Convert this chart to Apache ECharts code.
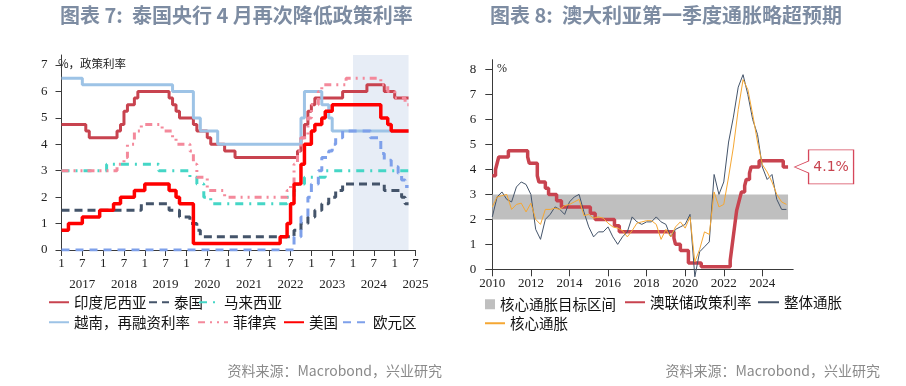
<!DOCTYPE html>
<html><head><meta charset="utf-8">
<script src="https://cdn.jsdelivr.net/npm/echarts@6/dist/echarts.min.js"></script>
<style>html,body{margin:0;padding:0;background:#fff}#c{width:906px;height:386px}</style>
</head><body><div id="c"></div>
<script>
// ---------- Left chart: policy rates (change points, "YYYY-MM", %) ----------
const leftYTicks = [0,1,2,3,4,5,6,7];
const leftMonthLabels = ['1','7'];
const leftShade = ['2024-01','2025-05'];
const indonesia = [['2017-01',4.75],['2017-08',4.5],['2017-09',4.25],['2018-05',4.5],['2018-06',4.75],['2018-07',5.25],['2018-08',5.5],['2018-10',5.75],['2018-11',6.0],['2019-08',5.75],['2019-09',5.5],['2019-10',5.25],['2019-11',5.0],['2020-03',4.75],['2020-04',4.5],['2020-07',4.25],['2020-08',4.0],['2020-12',3.75],['2021-03',3.5],['2022-09',3.75],['2022-10',4.25],['2022-11',4.75],['2022-12',5.25],['2023-01',5.5],['2023-02',5.75],['2023-10',6.0],['2024-05',6.25],['2024-10',6.0],['2025-01',5.75],['2025-05',5.75]];
const thailand = [['2017-01',1.5],['2018-12',1.75],['2019-08',1.5],['2019-11',1.25],['2020-02',1.0],['2020-04',0.75],['2020-05',0.5],['2022-08',0.75],['2022-10',1.0],['2022-12',1.25],['2023-02',1.5],['2023-04',1.75],['2023-06',2.0],['2023-08',2.25],['2023-10',2.5],['2024-10',2.25],['2025-03',2.0],['2025-04',1.75],['2025-05',1.75]];
const malaysia = [['2017-01',3.0],['2018-02',3.25],['2019-05',3.0],['2020-02',2.75],['2020-04',2.5],['2020-06',2.0],['2020-08',1.75],['2022-06',2.0],['2022-08',2.25],['2022-09',2.5],['2022-11',2.75],['2023-05',3.0],['2025-05',3.0]];
const vietnam = [['2017-01',6.5],['2017-07',6.25],['2019-09',6.0],['2020-03',5.0],['2020-05',4.5],['2020-10',4.0],['2022-10',5.0],['2022-11',6.0],['2023-04',5.5],['2023-06',5.0],['2023-07',4.5],['2025-05',4.5]];
const philippines = [['2017-01',3.0],['2018-05',3.25],['2018-07',3.5],['2018-08',4.0],['2018-10',4.5],['2018-12',4.75],['2019-06',4.5],['2019-09',4.25],['2019-10',4.0],['2020-02',3.75],['2020-03',3.25],['2020-04',2.75],['2020-07',2.25],['2020-12',2.0],['2022-06',2.25],['2022-07',2.5],['2022-08',3.25],['2022-09',3.75],['2022-10',4.25],['2022-12',5.0],['2023-01',5.5],['2023-03',6.0],['2023-04',6.25],['2023-11',6.5],['2024-09',6.25],['2024-11',6.0],['2025-01',5.75],['2025-04',5.5],['2025-05',5.5]];
const usa = [['2017-01',0.75],['2017-03',1.0],['2017-07',1.25],['2017-12',1.5],['2018-04',1.75],['2018-06',2.0],['2018-10',2.25],['2019-01',2.5],['2019-08',2.25],['2019-10',2.0],['2019-11',1.75],['2020-03',0.25],['2022-04',0.5],['2022-06',1.0],['2022-07',1.75],['2022-08',2.5],['2022-10',3.25],['2022-11',4.0],['2023-01',4.5],['2023-02',4.75],['2023-04',5.0],['2023-05',5.25],['2023-07',5.5],['2024-09',5.0],['2024-11',4.75],['2024-12',4.5],['2025-05',4.5]];
const euro = [['2017-01',0.0],['2022-08',0.5],['2022-10',1.25],['2022-12',2.0],['2023-01',2.5],['2023-03',3.0],['2023-04',3.5],['2023-06',3.75],['2023-07',4.0],['2023-08',4.25],['2023-10',4.5],['2024-06',4.25],['2024-09',3.65],['2024-10',3.4],['2024-12',3.15],['2025-02',2.9],['2025-03',2.65],['2025-04',2.4],['2025-05',2.4]];

// ---------- Right chart: Australia ----------
const rightYTicks = [0,1,2,3,4,5,6,7,8];
const rightXTicks = [2010,2012,2014,2016,2018,2020,2022,2024];
const bandLow = 2, bandHigh = 3;
const bandRange = ['2010-01','2025-05'];
const rbaRate = [['2010-01',3.75],['2010-03',4.0],['2010-04',4.25],['2010-05',4.5],['2010-11',4.75],['2011-11',4.5],['2011-12',4.25],['2012-05',3.75],['2012-06',3.5],['2012-10',3.25],['2012-12',3.0],['2013-05',2.75],['2013-08',2.5],['2015-02',2.25],['2015-05',2.0],['2016-05',1.75],['2016-08',1.5],['2019-06',1.25],['2019-07',1.0],['2019-10',0.75],['2020-03',0.25],['2020-11',0.1],['2022-05',0.35],['2022-06',0.85],['2022-07',1.35],['2022-08',1.85],['2022-09',2.35],['2022-10',2.6],['2022-11',2.85],['2022-12',3.1],['2023-02',3.35],['2023-03',3.6],['2023-05',3.85],['2023-06',4.1],['2023-11',4.35],['2025-02',4.1],['2025-05',4.1]];
const quarterStart = [2009, 4]; // first quarter shown: 2009Q4
const headlineCPI = [2.1,2.9,3.1,2.8,2.7,3.3,3.5,3.4,3.0,1.6,1.2,2.0,2.2,2.5,2.4,2.2,2.7,2.9,3.0,2.3,1.7,1.3,1.5,1.5,1.7,1.3,1.0,1.3,1.5,2.1,1.9,1.8,1.9,1.9,2.1,1.9,1.8,1.3,1.6,1.7,1.8,2.2,-0.3,0.7,0.9,1.1,3.8,3.0,3.5,5.1,6.1,7.3,7.8,7.0,6.0,5.4,4.1,3.6,3.8,2.8,2.4,2.4];
const coreCPI = [2.5,2.9,2.95,3.0,2.4,2.6,2.65,2.3,2.65,2.0,1.8,2.4,2.4,2.45,2.4,2.55,2.6,2.7,2.8,2.15,2.2,2.05,2.1,2.05,1.85,1.7,1.65,1.55,1.3,1.55,1.85,1.9,1.95,1.95,1.8,1.2,1.6,1.3,1.7,1.9,1.65,2.1,0.3,0.8,1.5,1.4,3.1,2.5,2.6,3.7,4.9,6.4,7.6,7.2,6.2,5.1,4.2,3.9,3.5,3.0,2.7,2.6];

// ---------- helpers ----------
function ym(s){ const p = s.split('-'); return +p[0] + (+p[1]-1)/12; }
function pts(arr){ return arr.map(d => [ym(d[0]), d[1]]); }
function quarterPts(vals){
  return vals.map((v,i) => { const q = quarterStart[1] + i; const y = quarterStart[0] + Math.floor((q-1)/4); const qq = ((q-1)%4)+1; return [y + qq/4, v]; });
}

const SERIF = 'Liberation Serif';
const CJK = 'Noto Sans CJK SC';
const axisCol = '#3a3a3a';

const leftSeriesDef = [
  {name:'印度尼西亚', data:indonesia, color:'#c8434f', width:3, type:'solid'},
  {name:'泰国', data:thailand, color:'#44546a', width:3, type:[8,5]},
  {name:'马来西亚', data:malaysia, color:'#45d6c6', width:3, type:[8,6,2,6]},
  {name:'越南，再融资利率', data:vietnam, color:'#9dc3e6', width:3, type:'solid'},
  {name:'菲律宾', data:philippines, color:'#f4899b', width:3, type:[7,5,2,5,2,5]},
  {name:'美国', data:usa, color:'#ff0000', width:3.5, type:'solid'},
  {name:'欧元区', data:euro, color:'#7ea0ea', width:3, type:[8,6]}
];

const series = [];
series.push({
  name:'_shade', type:'line', xAxisIndex:0, yAxisIndex:0, data:[], silent:true,
  markArea:{silent:true, itemStyle:{color:'#e7edf6'}, data:[[{xAxis:ym(leftShade[0])},{xAxis:ym(leftShade[1])}]]}
});
leftSeriesDef.forEach(s => series.push({
  name:s.name, type:'line', step:'end', xAxisIndex:0, yAxisIndex:0, symbol:'none',
  data:pts(s.data), color:s.color, lineStyle:{width:s.width, type:s.type, color:s.color}, animation:false
}));

series.push({
  name:'核心通胀目标区间', type:'line', xAxisIndex:1, yAxisIndex:1, symbol:'none', color:'#bfbfbf',
  data:[[ym(bandRange[0]), bandLow],[ym(bandRange[1]), bandLow]], lineStyle:{width:0, opacity:0}, silent:true,
  markArea:{silent:true, itemStyle:{color:'#bfbfbf'}, data:[[{xAxis:ym(bandRange[0]), yAxis:bandLow},{xAxis:ym(bandRange[1]), yAxis:bandHigh}]]}
});
const rbaPts = pts(rbaRate);
const lastRba = rbaPts[rbaPts.length-1];
series.push({
  name:'澳联储政策利率', type:'line', step:'end', xAxisIndex:1, yAxisIndex:1, symbol:'none', color:'#c8434f',
  data:rbaPts, lineStyle:{width:3.5, color:'#c8434f'}, z:3,
  markPoint:{
    silent:true,
    data:[{coord:lastRba, value:lastRba[1]}],
    symbol:'path://M0 17 L14 11 L14 0 L59 0 L59 34 L14 34 L14 23 Z',
    symbolSize:[59,34], symbolKeepAspect:false, symbolOffset:[36,0],
    itemStyle:{color:'#ffffff', borderColor:'#d6475b', borderWidth:1},
    label:{show:true, position:'inside', offset:[7,0], formatter:p => p.value + '%', color:'#c8434f', fontSize:14, fontFamily:'DejaVu Sans'}
  }
});
series.push({
  name:'整体通胀', type:'line', xAxisIndex:1, yAxisIndex:1, symbol:'none', color:'#44546a',
  data:quarterPts(headlineCPI), lineStyle:{width:1, color:'#44546a'}, clip:false, z:4
});
series.push({
  name:'核心通胀', type:'line', xAxisIndex:1, yAxisIndex:1, symbol:'none', color:'#f5a733',
  data:quarterPts(coreCPI), lineStyle:{width:1, color:'#f5a733'}, clip:false, z:4
});

function lg(name, left, top, w){
  return {
    data:[name], left:left, top:top, itemWidth:w, itemHeight:14, padding:0, selectedMode:false,
    itemStyle:{opacity:0},
    textStyle:{fontFamily:CJK, fontSize:14.5, color:'#111'}
  };
}
const legends = [
  lg('印度尼西亚', 48, 295, 20),
  lg('泰国', 148, 295, 20),
  lg('马来西亚', 198, 295, 20),
  lg('越南，再融资利率', 48, 315, 20),
  lg('菲律宾', 197, 315, 30),
  lg('美国', 283, 315, 20),
  lg('欧元区', 342, 315, 25),
  {data:[{name:'核心通胀目标区间', icon:'rect', itemStyle:{color:'#bfbfbf', opacity:1}}], left:485, top:297, itemWidth:10, itemHeight:10, padding:0, selectedMode:false, textStyle:{fontFamily:CJK, fontSize:14.5, color:'#111'}},
  lg('澳联储政策利率', 624, 295, 20),
  lg('整体通胀', 757, 295, 21),
  lg('核心通胀', 484, 316, 20)
];

const option = {
  animation:false,
  backgroundColor:'#ffffff',
  grid:[
    {left:61.5, top:55, width:354, height:195},
    {left:492.3, top:59.7, width:300.9, height:209.6}
  ],
  xAxis:[
    {type:'value', gridIndex:0, min:2017, max:2025.5, interval:0.5,
     axisLine:{lineStyle:{color:axisCol}}, axisTick:{length:6, lineStyle:{color:axisCol}}, splitLine:{show:false},
     axisLabel:{margin:6, color:'#222', fontFamily:SERIF, fontSize:13, showMinLabel:true, showMaxLabel:true,
       formatter:v => { const y = Math.floor(v+1e-9); return (v - y) < 0.25 ? '{m|'+leftMonthLabels[0]+'}' : '{m|'+leftMonthLabels[1]+'}\n{y|'+y+'}'; },
       rich:{m:{fontFamily:SERIF, fontSize:13, color:'#222', lineHeight:16}, y:{fontFamily:SERIF, fontSize:13, color:'#222', lineHeight:26}}}},
    {type:'value', gridIndex:1, min:2010, max:2025.6,
     axisLine:{lineStyle:{color:axisCol}}, axisTick:{length:7, lineStyle:{color:axisCol}, customValues:rightXTicks}, splitLine:{show:false},
     axisLabel:{margin:8, color:'#222', fontFamily:SERIF, fontSize:13, customValues:rightXTicks, formatter:v => String(v)}}
  ],
  yAxis:[
    {type:'value', gridIndex:0, min:0, max:7.38,
     axisLine:{show:true, lineStyle:{color:axisCol}}, axisTick:{show:true, length:6, lineStyle:{color:axisCol}, customValues:leftYTicks}, splitLine:{show:false},
     axisLabel:{margin:14, color:'#222', fontFamily:SERIF, fontSize:13, customValues:leftYTicks}},
    {type:'value', gridIndex:1, min:0, max:8.4,
     axisLine:{show:true, lineStyle:{color:axisCol}}, axisTick:{show:true, length:7, lineStyle:{color:axisCol}, customValues:rightYTicks}, splitLine:{show:false},
     axisLabel:{margin:16, color:'#222', fontFamily:SERIF, fontSize:13, customValues:rightYTicks}}
  ],
  legend:legends,
  series:series,
  graphic:[
    {type:'text', x:60, y:15, style:{text:'图表 7:  泰国央行 4 月再次降低政策利率', font:'bold 20px "Noto Sans CJK SC"', fill:'#7d8ca2', textVerticalAlign:'middle', verticalAlign:'middle'}},
    {type:'text', x:490, y:15, style:{text:'图表 8:  澳大利亚第一季度通胀略超预期', font:'bold 20px "Noto Sans CJK SC"', fill:'#7d8ca2', textVerticalAlign:'middle', verticalAlign:'middle'}},
    {type:'text', x:58, y:64, style:{text:'%，政策利率', font:'11.5px "Noto Sans CJK SC"', fill:'#222', textVerticalAlign:'middle', verticalAlign:'middle'}},
    {type:'text', x:497, y:69, style:{text:'%', font:'12px "Liberation Serif"', fill:'#222', textVerticalAlign:'middle', verticalAlign:'middle'}},
    {type:'text', x:442, y:371, style:{text:'资料来源：Macrobond，兴业研究', font:'14px "Noto Sans CJK SC"', fill:'#8a8a8a', textAlign:'right', align:'right', textVerticalAlign:'middle', verticalAlign:'middle'}},
    {type:'text', x:880, y:371, style:{text:'资料来源：Macrobond，兴业研究', font:'14px "Noto Sans CJK SC"', fill:'#8a8a8a', textAlign:'right', align:'right', textVerticalAlign:'middle', verticalAlign:'middle'}}
  ]
};
const chart = echarts.init(document.getElementById('c'), null, {renderer:'canvas'});
chart.setOption(option);
</script></body></html>
